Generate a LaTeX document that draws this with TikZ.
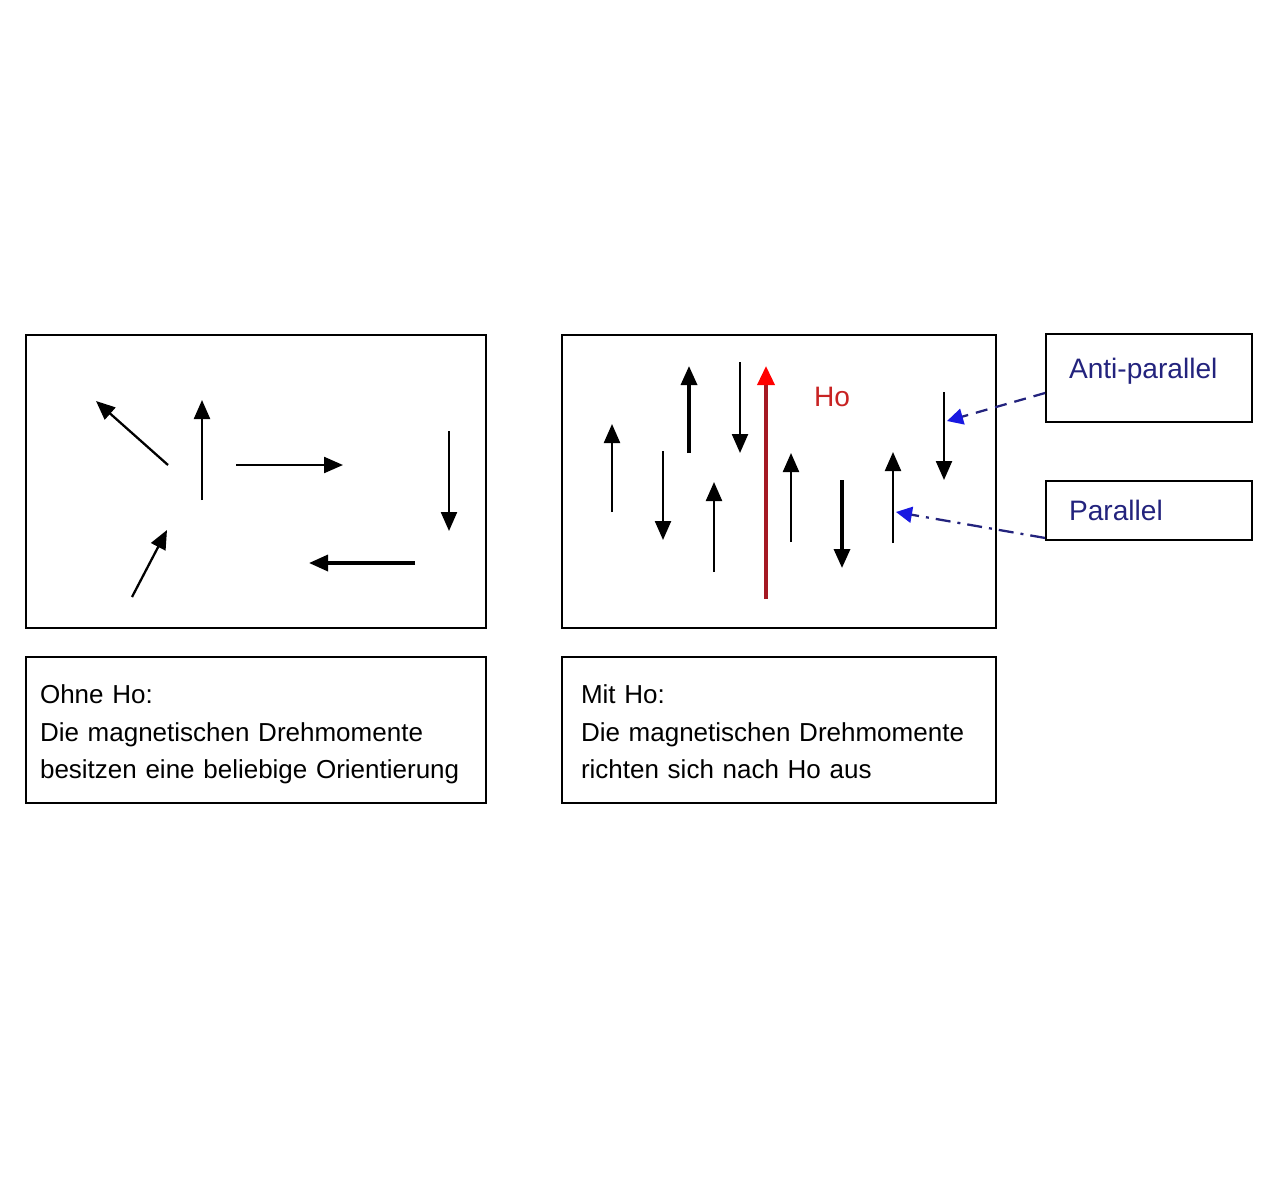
\documentclass[tikz,border=0pt]{standalone}
\usepackage{fontspec}
\setmainfont[WordSpace=0.6]{Liberation Sans}
\usetikzlibrary{arrows.meta, positioning}
\definecolor{hofarbe}{RGB}{200,35,35}
\definecolor{holinie}{RGB}{165,25,35}
\definecolor{marine}{RGB}{35,35,125}
\definecolor{zeiger}{RGB}{25,25,225}

\begin{document}
\begin{tikzpicture}[
		x=0.02cm, y=-0.02cm,
		box/.style={
			rectangle,
			draw,
			line width=1.1pt,
			inner sep=0pt
		},
		infobox/.style={
			box,
			minimum width=9.2cm,
			minimum height=2.92cm,
			text width=8.64cm,
			text depth=1.6cm,
			align=left,
			font=\fontsize{14.8}{21.5}\selectfont
		},
		labelbox/.style={
			box,
			minimum width=4.12cm,
			text width=3.2cm,
			align=left,
			text=marine,
			font=\fontsize{16}{19}\selectfont
		},
		moment/.style={
			-{Triangle[length=3.8mm,width=3.2mm]},
			line width=1.3pt
		},
		strong/.style={
			moment,
			line width=1.9pt
		},
		hint/.style={
			-{Triangle[length=3.2mm,width=3.2mm,color=zeiger]},
			marine,
			line width=1.3pt
		}
		]
		\useasboundingbox (0,0) rectangle (1280,1190);
		
		% frames
		\node[box, minimum width=9.2cm, minimum height=5.86cm] (ohnefeld) at (256,481.5) {};
		\node[box, minimum width=8.68cm, minimum height=5.86cm] (mitfeld) at (779,481.5) {};
		
		\node[labelbox, minimum height=1.76cm, text depth=11pt] (anti) at (1149,378) {Anti-parallel};
		\node[labelbox, minimum height=1.18cm] (par) at (1149,510.5) {Parallel};
		
		% captions
		\node[infobox] (ohnerahmen) at (256,730) {};
		\node[infobox, minimum width=8.68cm] (mitrahmen) at (779,730) {};
		\node[infobox, draw=none] (ohnetext) at (256,734) {
			Ohne Ho:\\
			Die magnetischen Drehmomente\\
			besitzen eine beliebige Orientierung
		};
		\node[infobox, draw=none, minimum width=8.68cm, text width=7.92cm] (mittext) at (779,734) {
			Mit Ho:\\
			Die magnetischen Drehmomente\\
			richten sich nach Ho aus
		};
		
		% random moments
		\draw[moment] (168,465) -- (96,401);
		\draw[moment] (202,500) -- (202,400);
		\draw[moment] (236,465) -- (343,465);
		\draw[moment] (449,431) -- (449,531);
		\draw[strong] (415,563) -- (309,563);
		\draw[moment] (132,597) -- (167,530);
		
		% aligned moments
		\draw[moment] (612,512) -- (612,424);
		\draw[moment] (663,451) -- (663,540);
		\draw[strong] (689,453) -- (689,366);
		\draw[moment] (714,572) -- (714,482);
		\draw[moment] (740,362) -- (740,453);
		\draw[moment] (791,542) -- (791,453);
		\draw[strong] (842,480) -- (842,568);
		\draw[moment] (893,543) -- (893,452);
		\draw[moment] (944,392) -- (944,480);
		
		% field
		\draw[-{Triangle[length=3.8mm,width=3.4mm,color=red]}, holinie, line width=2pt] (766,599) -- (766,366);
		\node[text=hofarbe, font=\fontsize{16}{19}\selectfont] (ho) at (832,397) {Ho};
		
		%--
		\coordinate (antiziel) at (947,421);
		\coordinate (parziel) at (896,512);
		\draw[hint, dash pattern=on 0.24cm off 0.16cm] ([yshift=-0.3cm]anti.west) -- (antiziel);
		\draw[hint, dash pattern=on 0.3cm off 0.14cm on 0.06cm off 0.14cm] ([yshift=0.06cm]par.south west) -- (parziel);
		
	\end{tikzpicture}
\end{document}
